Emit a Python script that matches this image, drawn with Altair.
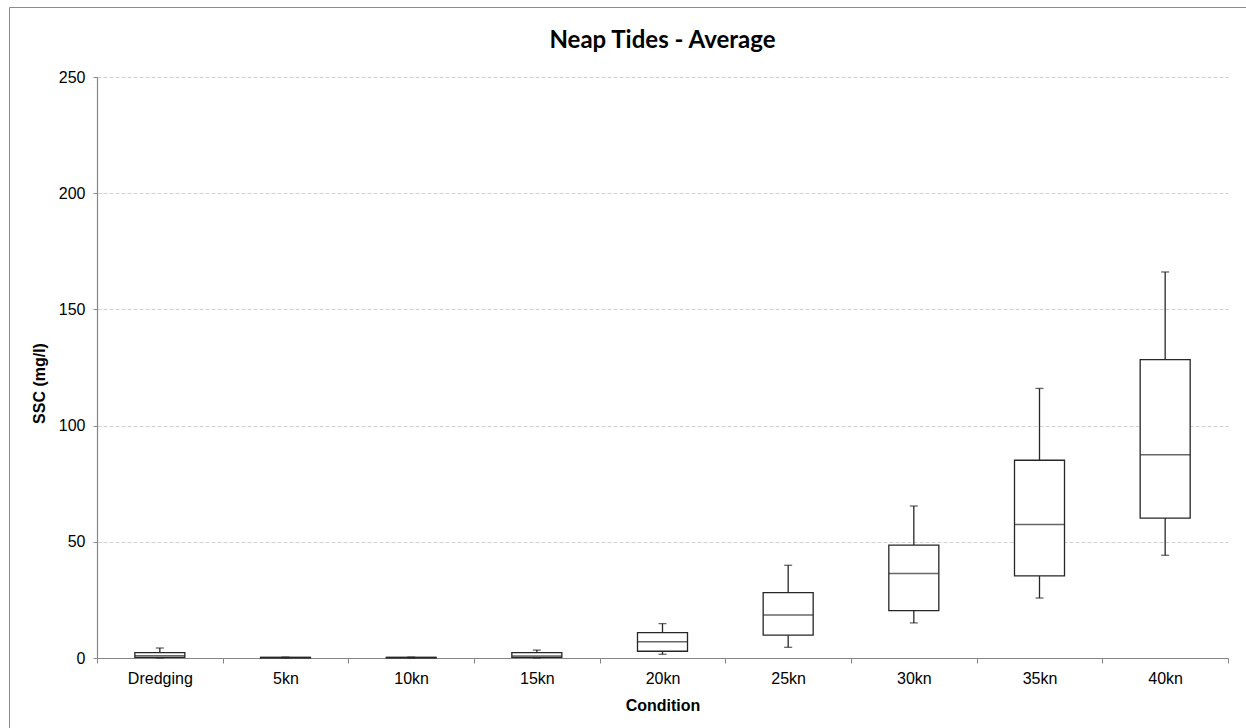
import altair as alt
import pandas as pd

# Suspended sediment concentration summary per condition (mg/l)
conditions = ["Dredging", "5kn", "10kn", "15kn", "20kn", "25kn", "30kn", "35kn", "40kn"]
whisker_low = [0.0, 0.0, 0.0, 0.0, 1.6, 4.6, 15.1, 25.8, 44.2]
quartile_1 = [0.3, 0.1, 0.1, 0.3, 2.9, 9.8, 20.4, 35.3, 60.2]
medians = [1.0, 0.2, 0.2, 0.9, 7.0, 18.5, 36.4, 57.4, 87.5]
quartile_3 = [2.3, 0.3, 0.3, 2.3, 10.9, 28.1, 48.6, 85.1, 128.4]
whisker_high = [4.3, 0.4, 0.4, 3.4, 14.8, 39.9, 65.4, 116.0, 166.1]
y_ticks = [0, 50, 100, 150, 200, 250]
chart_title = "Neap Tides - Average"

df = pd.DataFrame({
    "Condition": conditions,
    "lo": whisker_low,
    "q1": quartile_1,
    "med": medians,
    "q3": quartile_3,
    "hi": whisker_high,
})

LINE = "#262626"
LABEL_FONT = "Liberation Sans"

x_enc = alt.X(
    "Condition:N",
    sort=conditions,
    scale=alt.Scale(paddingInner=0, paddingOuter=0),
    axis=alt.Axis(
        title="Condition",
        labelAngle=0,
        tickBand="extent",
        tickSize=5,
        labelPadding=7,
        titleY=52,
        titleBaseline="alphabetic",
    ),
)
y_scale = alt.Scale(domain=[0, 250], nice=False)
y_axis = alt.Axis(
    title="SSC (mg/l)",
    values=y_ticks,
    tickSize=4,
    labelPadding=8,
    titleX=-50,
    titleY=306,
    grid=True,
    gridDash=[4, 2],
    gridColor="#d0d0d0",
)

base = alt.Chart(df)

whiskers = base.mark_rule(color=LINE, strokeWidth=1.3).encode(
    x=x_enc,
    y=alt.Y("lo:Q", scale=y_scale, axis=y_axis),
    y2="hi:Q",
)
cap_low = base.mark_tick(color=LINE, size=8, thickness=1.3, orient="horizontal").encode(
    x=x_enc, y=alt.Y("lo:Q", scale=y_scale)
)
cap_high = base.mark_tick(color=LINE, size=8, thickness=1.3, orient="horizontal").encode(
    x=x_enc, y=alt.Y("hi:Q", scale=y_scale)
)
boxes = base.mark_bar(size=50, fill="white", stroke=LINE, strokeWidth=1.3).encode(
    x=x_enc,
    y=alt.Y("q1:Q", scale=y_scale),
    y2="q3:Q",
)
median_line = base.mark_tick(color=LINE, size=50, thickness=1.5, orient="horizontal").encode(
    x=x_enc, y=alt.Y("med:Q", scale=y_scale)
)

single = pd.DataFrame({"t": [chart_title]})

# Chart heading, centred over the plot area
heading = alt.Chart(single).mark_text(
    font="Lato", fontSize=24, fontWeight="bold", color="#000000",
    align="center", baseline="alphabetic",
).encode(
    text="t:N", x=alt.value(565.5), y=alt.value(-29)
)

# Thin grey frame around the whole figure
frame = alt.Chart(single).mark_rect(
    fill=None, stroke="#8c8c8c", strokeWidth=1
).encode(
    x=alt.value(-87.5), x2=alt.value(1200), y=alt.value(-69.5), y2=alt.value(700)
)

chart = alt.layer(whiskers, cap_low, cap_high, boxes, median_line, heading, frame).properties(
    width=1131,
    height=581,
    autosize=alt.AutoSizeParams(type="none"),
    padding={"left": 97, "top": 77, "right": 18, "bottom": 70},
).configure_view(
    stroke=None
).configure_axis(
    domainColor="#868686",
    tickColor="#868686",
    domainWidth=1.2,
    labelFont=LABEL_FONT,
    labelFontSize=16,
    labelColor="#000000",
    titleFont=LABEL_FONT,
    titleFontSize=16,
    titleFontWeight="bold",
    titleColor="#000000",
).configure_axisX(
    grid=False
)

chart.save("out.html", embed_options={"renderer": "svg", "actions": False})
